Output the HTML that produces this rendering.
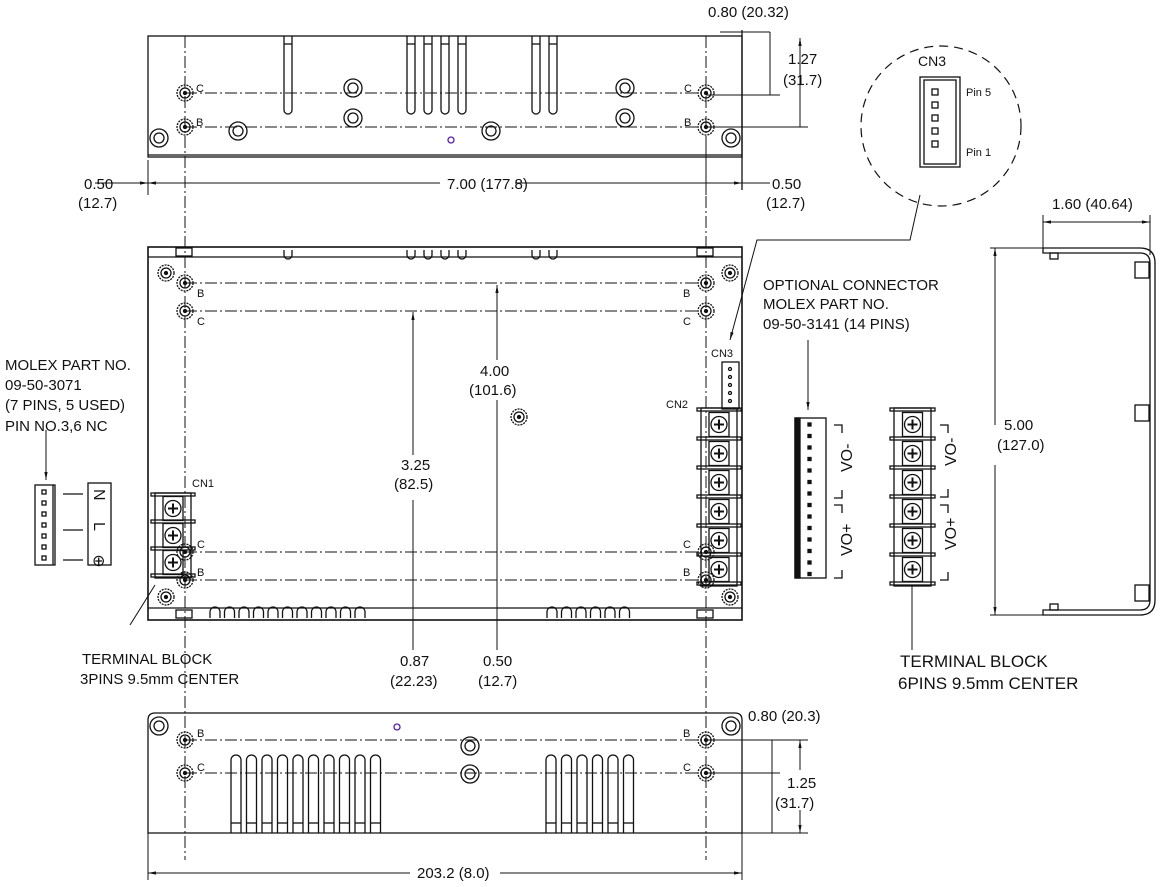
<!DOCTYPE html>
<html><head><meta charset="utf-8"><style>
html,body{margin:0;padding:0;background:#fff;}
svg{display:block;font-family:"Liberation Sans",sans-serif;}
text{fill:#111;}
</style></head><body>
<svg id="s" width="1163" height="887" viewBox="0 0 1163 887" xmlns="http://www.w3.org/2000/svg">
<defs>
<marker id="a" viewBox="0 0 10 10" refX="10" refY="5" markerWidth="8" markerHeight="8" orient="auto-start-reverse"><path d="M0,3 L10,5 L0,7 z" fill="#111"/></marker>
</defs>
<g id="g" fill="none" stroke="#111" stroke-width="1.3">
<rect x="148" y="36" width="594" height="121"/>
<line x1="148" y1="155" x2="742" y2="155"/>
<line x1="742" y1="30" x2="742" y2="190"/>
<rect x="148" y="247" width="594" height="373" stroke-width="1.6"/>
<line x1="148" y1="257" x2="742" y2="257"/>
<line x1="148" y1="608" x2="742" y2="608"/>
<path d="M148,720 Q148,713 155,713 L735,713 Q742,713 742,720 L742,833 L148,833 Z"/>
<path d="M1043,248 L1140,248 Q1155,248 1155,263 L1155,600 Q1155,615 1140,615 L1043,615 L1043,610 L1140,610 Q1150,610 1150,600 L1150,263 Q1150,253 1140,253 L1043,253 Z"/>
<g stroke-width="1">
<line x1="148" y1="183" x2="440" y2="183" marker-start="url(#a)"/>
<line x1="515" y1="183" x2="742" y2="183" marker-end="url(#a)"/>
<line x1="95" y1="183" x2="148" y2="183" marker-end="url(#a)"/>
<line x1="742" y1="183" x2="770" y2="183"/>
<line x1="148" y1="160" x2="148" y2="195"/>
<line x1="706" y1="140" x2="706" y2="195"/>
<line x1="706" y1="183" x2="742" y2="183"/>
<line x1="770" y1="32" x2="770" y2="95"/>
<line x1="720" y1="32" x2="770" y2="32"/>
<line x1="706" y1="95" x2="780" y2="95"/>
<line x1="706" y1="127" x2="808" y2="127"/>
<line x1="800" y1="38" x2="800" y2="127" marker-start="url(#a)"/>
<line x1="413" y1="312" x2="413" y2="455" marker-start="url(#a)"/>
<line x1="413" y1="500" x2="413" y2="650"/>
<line x1="497" y1="285" x2="497" y2="360" marker-start="url(#a)"/>
<line x1="497" y1="400" x2="497" y2="650"/>
<line x1="1043" y1="215" x2="1043" y2="248"/>
<line x1="1043" y1="222" x2="1150" y2="222" marker-start="url(#a)" marker-end="url(#a)"/>
<line x1="1150" y1="215" x2="1150" y2="255"/>
<line x1="990" y1="248" x2="1043" y2="248"/>
<line x1="990" y1="615" x2="1043" y2="615"/>
<line x1="995" y1="248" x2="995" y2="425" marker-start="url(#a)"/>
<line x1="995" y1="465" x2="995" y2="615" marker-end="url(#a)"/>
<line x1="706" y1="740" x2="808" y2="740"/>
<line x1="706" y1="773" x2="780" y2="773"/>
<line x1="742" y1="833" x2="808" y2="833"/>
<line x1="772" y1="740" x2="772" y2="833"/>
<line x1="800" y1="740" x2="800" y2="770" marker-start="url(#a)"/>
<line x1="800" y1="810" x2="800" y2="833" marker-end="url(#a)"/>
<line x1="148" y1="833" x2="148" y2="880"/>
<line x1="742" y1="833" x2="742" y2="880"/>
<line x1="148" y1="873" x2="410" y2="873" marker-start="url(#a)"/>
<line x1="500" y1="873" x2="742" y2="873" marker-end="url(#a)"/>
<line x1="46" y1="430" x2="46" y2="480" marker-end="url(#a)"/>
<line x1="808" y1="340" x2="808" y2="410" marker-end="url(#a)"/>
<line x1="912" y1="585" x2="912" y2="650"/>
<line x1="130" y1="625" x2="155" y2="585"/>
<polyline points="920,195 910,240 757,240 730,340" marker-end="url(#a)"/>
</g>
<circle cx="941" cy="126" r="80" stroke-dasharray="9,6" stroke-width="1.2"/>
<rect x="920" y="77" width="40" height="90"/>
<rect x="924" y="80" width="32" height="84"/>
<rect x="35" y="485" width="20" height="80"/>
<line x1="53" y1="485" x2="53" y2="565"/>
<rect x="88" y="483" width="23" height="82"/>
<line x1="63" y1="494" x2="83" y2="494"/><line x1="63" y1="530" x2="83" y2="530"/><line x1="63" y1="560" x2="83" y2="560"/>
<rect x="795" y="418" width="31" height="160"/>
<rect x="795" y="418" width="5" height="160" fill="#111"/>
<rect x="722" y="362" width="17" height="47"/>
<path d="M834,425 h8 v8 M834,498 h8 v-8 M834,505 h8 v8 M834,578 h8 v-8"/>
<path d="M940,425 h8 v8 M940,497 h8 v-8 M940,505 h8 v8 M940,580 h8 v-8"/>
</g>
<g font-size="15">
<text x="708" y="17">0.80 (20.32)</text>
<text x="788" y="64">1.27</text>
<text x="783" y="85">(31.7)</text>
<text x="84" y="189">0.50</text>
<text x="78" y="208">(12.7)</text>
<text x="447" y="189">7.00 (177.8)</text>
<text x="772" y="189">0.50</text>
<text x="766" y="208">(12.7)</text>
<text x="763" y="290">OPTIONAL CONNECTOR</text>
<text x="763" y="309">MOLEX PART NO.</text>
<text x="763" y="329">09-50-3141 (14 PINS)</text>
<text x="5" y="370">MOLEX PART NO.</text>
<text x="5" y="390">09-50-3071</text>
<text x="5" y="410">(7 PINS, 5 USED)</text>
<text x="5" y="431">PIN NO.3,6 NC</text>
<text x="480" y="376">4.00</text>
<text x="469" y="395">(101.6)</text>
<text x="401" y="470">3.25</text>
<text x="394" y="489">(82.5)</text>
<text x="82" y="664">TERMINAL BLOCK</text>
<text x="80" y="684">3PINS 9.5mm CENTER</text>
<text x="400" y="666">0.87</text>
<text x="390" y="686">(22.23)</text>
<text x="483" y="666">0.50</text>
<text x="478" y="686">(12.7)</text>
<text x="1052" y="209">1.60 (40.64)</text>
<text x="1004" y="430">5.00</text>
<text x="997" y="450">(127.0)</text>
<text x="748" y="721">0.80 (20.3)</text>
<text x="787" y="788">1.25</text>
<text x="775" y="808">(31.7)</text>
<text x="417" y="878">203.2 (8.0)</text>
</g>
<g font-size="17">
<text x="900" y="667">TERMINAL BLOCK</text>
<text x="898" y="689">6PINS 9.5mm CENTER</text>
</g>
<g font-size="11">
<text x="918" y="66" font-size="14">CN3</text>
<text x="966" y="96">Pin 5</text>
<text x="966" y="156">Pin 1</text>
<text x="711" y="357">CN3</text>
<text x="666" y="408">CN2</text>
<text x="192" y="487">CN1</text>
<text x="196" y="92">C</text><text x="196" y="126">B</text>
<text x="684" y="92">C</text><text x="684" y="126">B</text>
<text x="197" y="297">B</text><text x="197" y="325">C</text>
<text x="683" y="297">B</text><text x="683" y="325">C</text>
<text x="197" y="548">C</text><text x="197" y="576">B</text>
<text x="683" y="548">C</text><text x="683" y="576">B</text>
<text x="197" y="737">B</text><text x="197" y="771">C</text>
<text x="683" y="737">B</text><text x="683" y="771">C</text>
</g>
<g font-size="16">
<text transform="translate(94,489) rotate(90)">N</text>
<text transform="translate(94,522) rotate(90)">L</text>
<text x="92" y="566">⊕</text>
<text transform="translate(852,472) rotate(-90)">VO-</text>
<text transform="translate(852,556) rotate(-90)">VO+</text>
<text transform="translate(956,466) rotate(-90)">VO-</text>
<text transform="translate(956,550) rotate(-90)">VO+</text>
</g>
</svg>
<script>
var NS="http://www.w3.org/2000/svg",G=document.getElementById('g');
function el(t,a){var e=document.createElementNS(NS,t);for(var k in a)e.setAttribute(k,a[k]);G.appendChild(e);return e;}
function dd(x1,y1,x2,y2){el('line',{x1:x1,y1:y1,x2:x2,y2:y2,'stroke-dasharray':'12,3,2,3','stroke-width':1});}
[93,127,283,311,552,580,740,773].forEach(function(y){dd(185,y,706,y);});
dd(185,36,185,860);dd(706,36,706,860);
function nut(x,y){el('circle',{cx:x,cy:y,r:8,'stroke-dasharray':'2,1'});el('circle',{cx:x,cy:y,r:5});el('circle',{cx:x,cy:y,r:1.5,fill:'#111'});}
function ring(x,y){el('circle',{cx:x,cy:y,r:9});el('circle',{cx:x,cy:y,r:5});}
[[185,93],[185,127],[706,93],[706,127],[185,283],[185,311],[706,283],[706,311],[185,552],[185,580],[706,552],[706,580],[185,740],[185,773],[706,740],[706,773],[166,273],[730,273],[166,597],[730,597],[519,417]].forEach(function(p){nut(p[0],p[1]);});
[[159,138],[238,131],[353,88],[353,118],[491,131],[625,88],[625,118],[731,138],[159,726],[731,726],[470,746],[470,774]].forEach(function(p){ring(p[0],p[1]);});
el('circle',{cx:451,cy:140,r:3,stroke:'#529'});el('circle',{cx:397,cy:727,r:3,stroke:'#529'});
[288,411,428,445,462,536,553].forEach(function(x){el('path',{d:'M'+(x-4)+',36 L'+(x-4)+',110 A4,4 0 0 0 '+(x+4)+',110 L'+(x+4)+',36'});el('line',{x1:x-4,y1:44,x2:x+4,y2:44});});
function fin(x){el('path',{d:'M'+(x-5)+',833 L'+(x-5)+',760 A5,5 0 0 1 '+(x+5)+',760 L'+(x+5)+',833'});el('line',{x1:x-5,y1:823,x2:x+5,y2:823});}
for(var i=0;i<10;i++)fin(236+i*15.5);
for(var i=0;i<6;i++)fin(551+i*15.5);
[288,411,428,445,462,536,553].forEach(function(x){el('path',{d:'M'+(x-4)+',250 L'+(x-4)+',255 A4,4 0 0 0 '+(x+4)+',255 L'+(x+4)+',250'});});
for(var i=0;i<11;i++){var x=215+i*14.5;el('path',{d:'M'+(x-5)+',618 L'+(x-5)+',612 A5,5 0 0 1 '+(x+5)+',612 L'+(x+5)+',618'});}
for(var i=0;i<6;i++){var x=552+i*14.5;el('path',{d:'M'+(x-5)+',618 L'+(x-5)+',612 A5,5 0 0 1 '+(x+5)+',612 L'+(x+5)+',618'});}
[[176,248],[697,248],[176,610],[697,610]].forEach(function(p){el('rect',{x:p[0],y:p[1],width:16,height:8});});
function tb(x,y,n,p,w){el('rect',{x:x+4,y:y,width:w-8,height:n*p+4});for(var i=0;i<=n;i++){el('rect',{x:x,y:y+i*p,width:w,height:3});}
for(var i=0;i<n;i++){var cy=y+i*p+p/2+2,cx=x+w/2;el('rect',{x:cx-10,y:cy-12,width:20,height:24});el('circle',{cx:cx,cy:cy,r:8});el('path',{d:'M'+(cx-5)+','+cy+' h10 M'+cx+','+(cy-5)+' v10','stroke-width':2});}}
tb(697,408,6,29,44);tb(890,408,6,29,45);tb(151,493,3,27,44);
for(var i=0;i<14;i++)el('rect',{x:808,y:423+i*11.5,width:3,height:3,fill:'#111'});
for(var i=0;i<7;i++)el('rect',{x:42,y:490+i*11,width:4,height:4});
for(var i=0;i<5;i++)el('rect',{x:932,y:89+i*13,width:6,height:6});
for(var i=0;i<5;i++)el('circle',{cx:730,cy:369+i*8,r:1.5});
[[1135,262],[1135,405],[1135,585]].forEach(function(p){el('rect',{x:p[0],y:p[1],width:14,height:16});});
el('rect',{x:1050,y:253,width:8,height:6});el('rect',{x:1050,y:604,width:8,height:6});
</script>
</body></html>
